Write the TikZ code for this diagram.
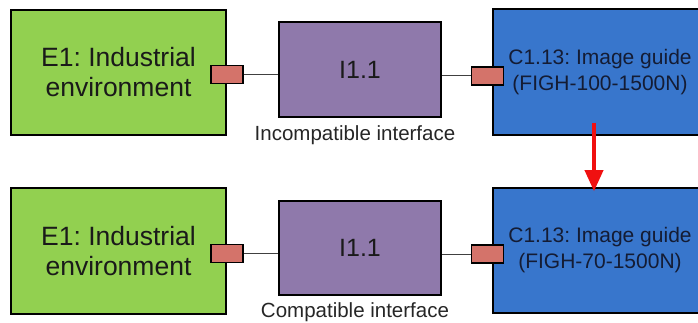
\documentclass[tikz,border=0pt]{standalone}
\usepackage{fontspec}
\setmainfont{Liberation Sans}
\usetikzlibrary{arrows.meta}
\definecolor{envgreen}{HTML}{92D050}
\definecolor{ifpurple}{HTML}{8F79AB}
\definecolor{compblue}{HTML}{3876CC}
\definecolor{portred}{HTML}{D4736A}
\definecolor{txtdark}{HTML}{1A1A1A}
\definecolor{txtnavy}{HTML}{141C34}
\definecolor{arrowred}{HTML}{F01010}
\tikzset{
  box/.style={draw=black, line width=1.5pt, inner sep=0pt, align=center},
  envbox/.style={box, fill=envgreen, minimum width=215pt, minimum height=125pt,
    font=\fontsize{26.5}{30}\selectfont, text=txtdark},
  ifbox/.style={box, fill=ifpurple, minimum width=162pt, minimum height=95pt,
    font=\fontsize{25}{30}\selectfont, text=txtdark},
  compbox/.style={box, fill=compblue, minimum width=214pt, minimum height=126pt,
    font=\fontsize{21}{26}\selectfont, text=txtnavy},
  port/.style={draw=black, line width=1.5pt, fill=portred, minimum width=32pt, minimum height=18pt, inner sep=0pt},
  link/.style={draw=black!75, line width=1pt},
  iflabel/.style={font=\fontsize{20.5}{24}\selectfont, text=black!85, inner sep=0pt},
  change/.style={draw=arrowred, line width=3.5pt, -{Triangle[width=18pt,length=21pt]}}
}
\frenchspacing
\begin{document}
\begin{tikzpicture}[x=1pt,y=-1pt]
\useasboundingbox (0,0) rectangle (698,323);
\clip (0,0) rectangle (698,323);
% top row
\node[envbox] (te) at (118.5,72.5) {E1: Industrial\\environment};
\node[ifbox] (ti) at (360,69.5) {I1.1};
\node[compbox] (tc) at (600,72) {C1.13: Image guide\\(FIGH-100-1500N)};
\node[port] (tp1) at (227,74.5) {};
\node[port] (tp2) at (487.5,76) {};
\draw[link] (tp1.east) -- (tp1.east -| ti.west);
\draw[link] (tp2.west) -- (tp2.west -| ti.east);
\node[iflabel] (tl) at (355,135) {Incompatible interface};
% bottom row
\node[envbox, minimum height=126pt] (be) at (118.5,251) {E1: Industrial\\environment};
\node[ifbox, minimum height=94pt] (bi) at (360,248) {I1.1};
\node[compbox, minimum height=125pt] (bc) at (600,250.5) {C1.13: Image guide\\(FIGH-70-1500N)};
\node[port] (bp1) at (227,253.5) {};
\node[port] (bp2) at (487.5,254) {};
\draw[link] (bp1.east) -- (bp1.east -| bi.west);
\draw[link] (bp2.west) -- (bp2.west -| bi.east);
\node[iflabel] (bl) at (355,312) {Compatible interface};
% change arrow
\draw[change] ([xshift=-6pt,yshift=13pt]tc.south) -- ([xshift=-6pt,yshift=-4pt]bc.north);
\end{tikzpicture}
\end{document}
